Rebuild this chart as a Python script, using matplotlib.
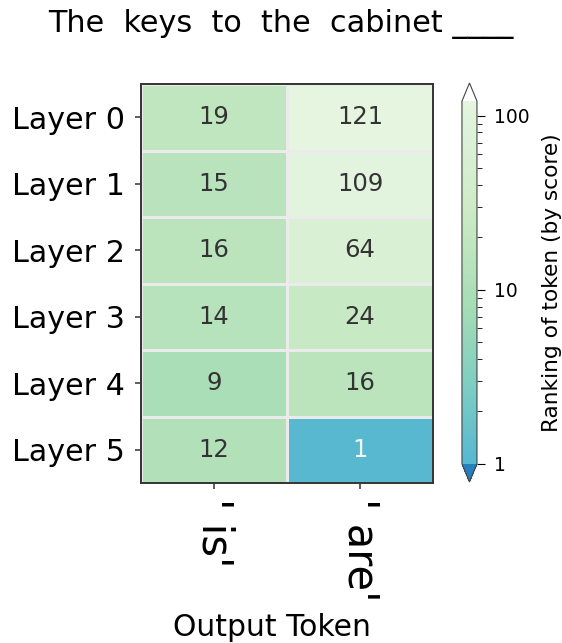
import numpy as np
import matplotlib
matplotlib.use("Agg")
import matplotlib.pyplot as plt
from matplotlib.colors import LogNorm, LinearSegmentedColormap, to_rgb


# input sentence tokens (the blank is the position being predicted)
input_tokens = ["The", " keys", " to", " the", " cabinet"]
output_tokens = ["' is'", "' are'"]
layer_labels = ["Layer 0", "Layer 1", "Layer 2", "Layer 3", "Layer 4", "Layer 5"]

# rank of each output token at each layer
rank_is = [19, 15, 16, 14, 9, 12]
rank_are = [121, 109, 64, 24, 16, 1]

rankings = np.array([rank_is, rank_are]).T


def rel_lum(rgb):
    # luminance rule (like seaborn) to pick the annotation colour
    c = np.array(rgb)
    c = np.where(c <= 0.03928, c / 12.92, ((c + 0.055) / 1.055) ** 2.4)
    return c.dot([0.2126, 0.7152, 0.0722])


# middle part of GnBu_r so that rank 1 is a mid blue
base = plt.get_cmap("GnBu_r")
cmap = LinearSegmentedColormap.from_list("mid_part", base(np.linspace(0.4, 0.9, 256)))
cmap.set_under("#2680bb")
cmap.set_over("white")
norm = LogNorm(vmin=1, vmax=rankings.max())

fig = plt.figure(figsize=(5.62, 6.43), dpi=100)
ax = fig.add_axes([0.2509, 0.2488, 0.5196, 0.6205])
cax = fig.add_axes([0.822, 0.2504, 0.0267, 0.6205])

mesh = ax.pcolormesh(rankings, cmap=cmap, norm=norm,
                     edgecolor="#ebebeb", linewidth=2.0)
ax.set_xlim(0, rankings.shape[1])
ax.set_ylim(rankings.shape[0], 0)

# annotate each cell, light text on dark cells
for i in range(rankings.shape[0]):
    for j in range(rankings.shape[1]):
        val = rankings[i, j]
        cell = to_rgb(mesh.cmap(mesh.norm(val)))
        color = "#eef8fa" if rel_lum(cell) < 0.43 else "#333333"
        ax.text(j + 0.5, i + 0.5, str(val), ha="center", va="center",
                fontsize=17.5, color=color)

# axis ticks and labels
ax.set_yticks(np.arange(len(layer_labels)) + 0.5)
ax.set_yticklabels(layer_labels, fontsize=21.7)
ax.set_xticks(np.arange(len(output_tokens)) + 0.5)
ax.set_xticklabels(output_tokens, fontsize=30, rotation=-90)
ax.tick_params(axis="y", length=4.5, width=1.1, pad=7, color="#333333")
ax.tick_params(axis="x", length=4.5, width=1.1, pad=6, color="#333333")
for spine in ax.spines.values():
    spine.set_linewidth(1.4)
    spine.set_color("#333333")

# title with a blank for the predicted token
fig.text(0.5, 0.962, " ".join(input_tokens) + " ____", ha="center",
         va="center", fontsize=21.8)
fig.text(0.4835, 0.024, "Output Token", ha="center", va="center", fontsize=21.5)

# colorbar
cb = fig.colorbar(mesh, cax=cax, extend="both")
cb.set_ticks([1, 10, 100], labels=["1", "10", "100"])
cb.ax.tick_params(which="major", labelsize=13.5, length=6, pad=6.5)
cb.ax.tick_params(which="minor", length=3.5)
cb.outline.set_edgecolor("#444444")
cb.set_label("Ranking of token (by score)", fontsize=15.6, labelpad=8.5)

plt.savefig("out.png", dpi=100)
